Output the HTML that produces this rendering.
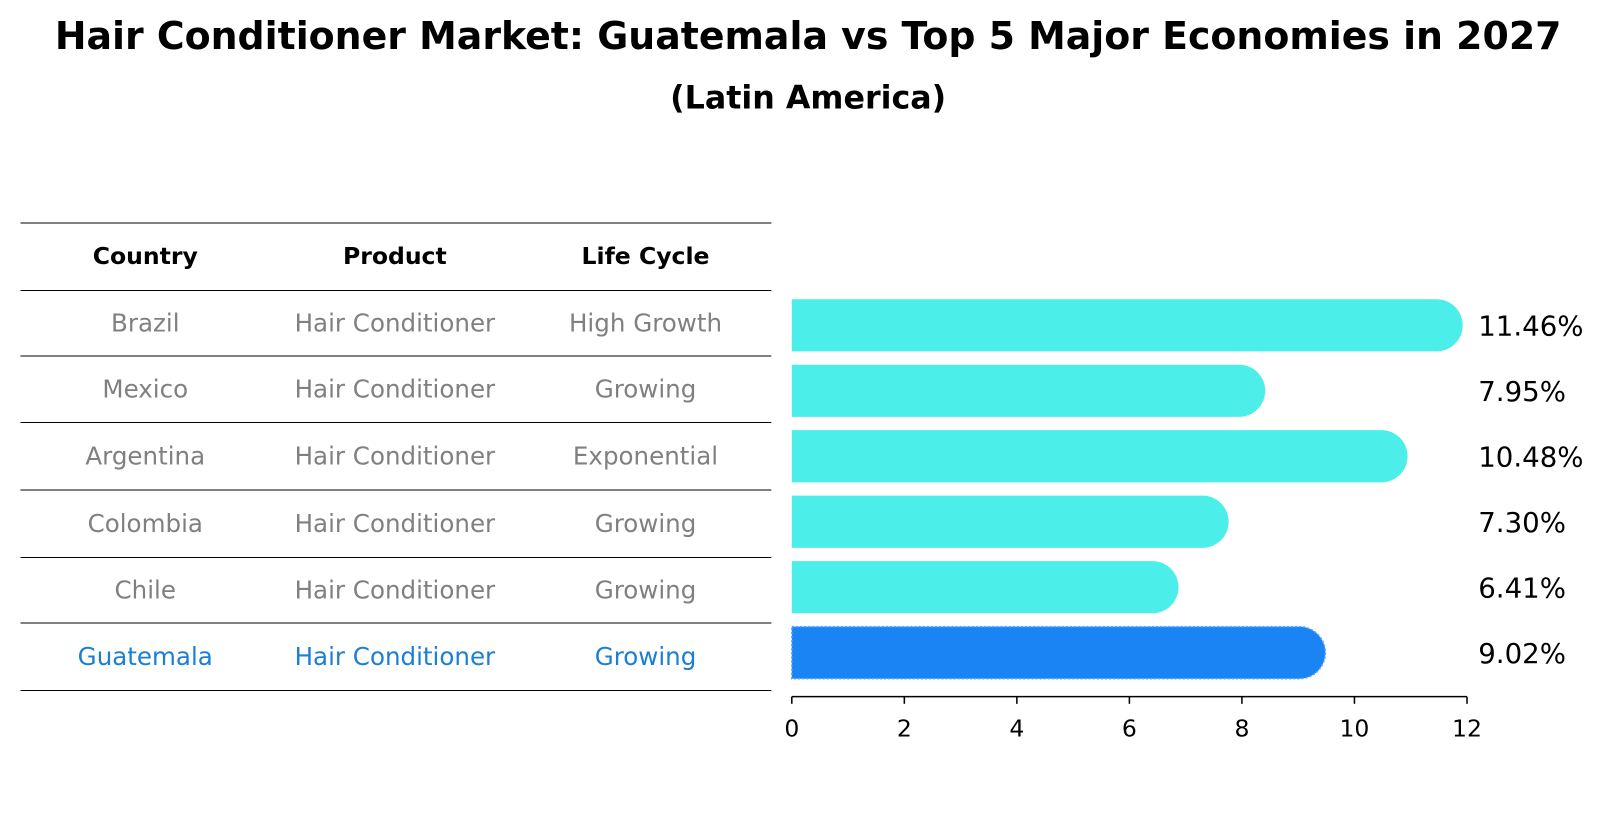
<!DOCTYPE html>
<html><head><meta charset="utf-8"><style>
body{margin:0;background:#fff;font-family:"DejaVu Sans","Liberation Sans",sans-serif}
</style></head><body>
<svg id="c" width="1604" height="823" xmlns="http://www.w3.org/2000/svg">
<g transform="scale(1.023)">
<text x="790" y="48" text-anchor="middle" font-size="37" font-weight="bold">Hair Conditioner Market: Guatemala vs Top 5 Major Economies in 2027</text>
<text x="790" y="106" text-anchor="middle" font-size="31" font-weight="bold">(Latin America)</text>
<g id="tbl"></g>
<g id="bars"></g>
<g id="axis"></g>
</g>
</svg>
<script>
const countries=["Brazil","Mexico","Argentina","Colombia","Chile","Guatemala"];
const products=["Hair Conditioner","Hair Conditioner","Hair Conditioner","Hair Conditioner","Hair Conditioner","Hair Conditioner"];
const lifeCycles=["High Growth","Growing","Exponential","Growing","Growing","Growing"];
const values=[11.46,7.95,10.48,7.30,6.41,9.02];
const ticks=[0,2,4,6,8,10,12];
const NS="http://www.w3.org/2000/svg";
function mk(t,a,p,txt){const e=document.createElementNS(NS,t);for(const k in a)e.setAttribute(k,a[k]);if(txt!==undefined)e.textContent=txt;p.appendChild(e);return e;}
const x=v=>774+v*55;
const rowY=i=>318+i*64;
const tbl=document.getElementById('tbl');
const lines=[218,284,348,413,479,545,609,675];
lines.forEach((y,i)=>{const l=mk('line',{x1:20,x2:754,y1:y,y2:y,stroke:'#000','stroke-width':1},tbl);

});
const cx=[142,386,631];
["Country","Product","Life Cycle"].forEach((h,j)=>{const t=mk('text',{x:cx[j],y:258,'text-anchor':'middle','font-size':23,'font-weight':'bold'},tbl,h);

});
countries.forEach((c,i)=>{const col=i===5?'#1a7fd6':'#808080';const y=(lines[i+1]+lines[i+2])/2+8;
[c,products[i],lifeCycles[i]].forEach((s,j)=>{const t=mk('text',{x:cx[j],y:y,'text-anchor':'middle','font-size':24,fill:col},tbl,s);

});});
const bars=document.getElementById('bars');
const h=51,r=25.5;
values.forEach((v,i)=>{const y=rowY(i)-h/2;const xe=x(v);const col=i===5?'#1a84f5':'#4ceeea';
const p=mk('path',{d:`M${x(0)},${y} H${xe} A${r},${r} 0 0 1 ${xe},${y+h} H${x(0)} Z`,fill:col},bars);
if(i===5){p.setAttribute('stroke','#5aa8ff');p.setAttribute('stroke-dasharray','2,2');p.setAttribute('stroke-width','1.5');}


const t=mk('text',{x:1445,y:rowY(i)+10,'font-size':27},bars,v.toFixed(2)+'%');

});
const ax=document.getElementById('axis');
mk('line',{x1:x(0),x2:x(12),y1:681,y2:681,stroke:'#000','stroke-width':1.5},ax);
ticks.forEach(v=>{const l=mk('line',{x1:x(v),x2:x(v),y1:681,y2:688,stroke:'#000','stroke-width':1.5},ax);


const t=mk('text',{x:x(v),y:720,'text-anchor':'middle','font-size':23},ax,String(v));

});
</script>
</body></html>
